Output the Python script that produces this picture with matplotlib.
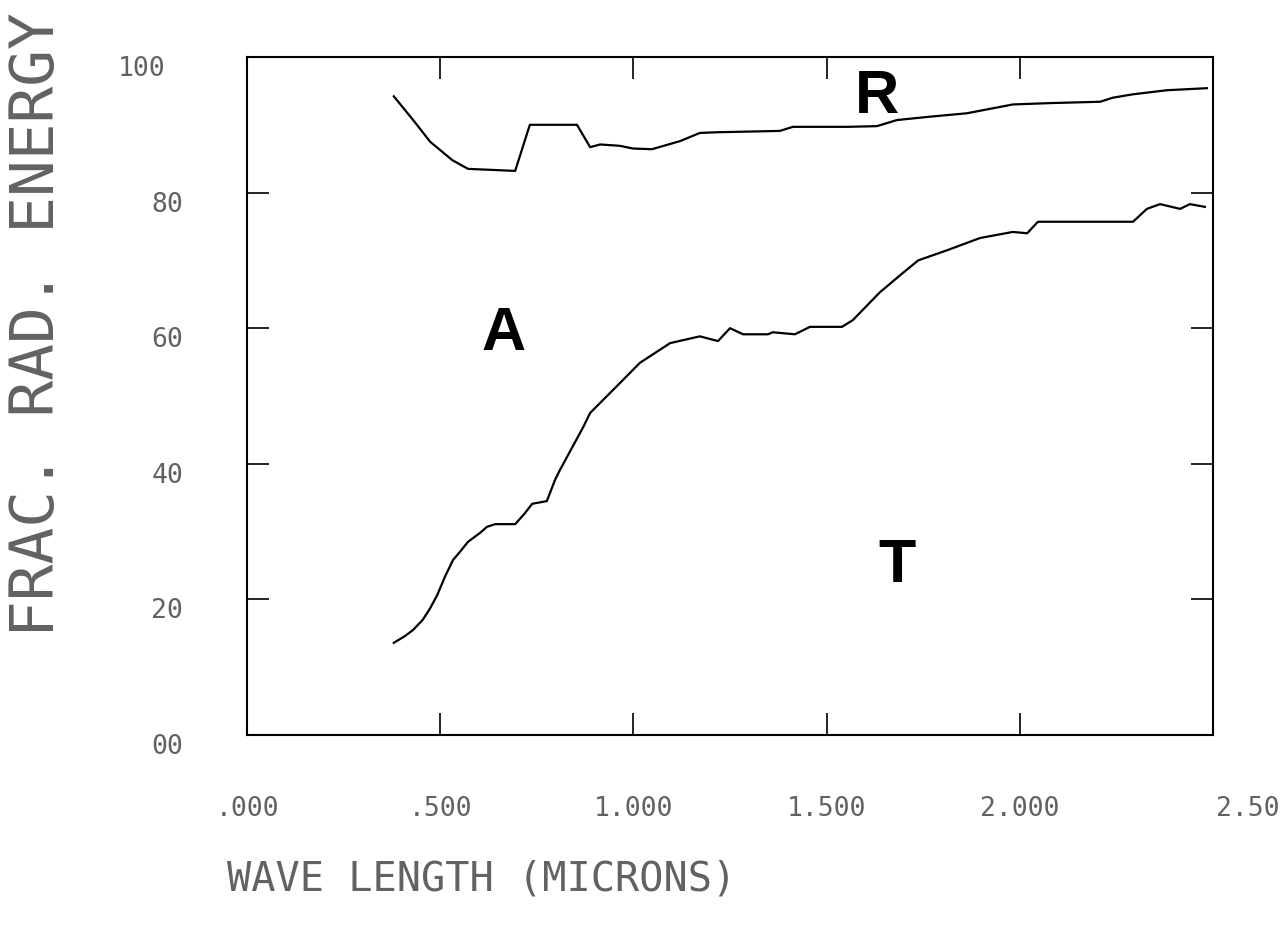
import matplotlib
matplotlib.use("Agg")
import matplotlib.pyplot as plt
from matplotlib.transforms import ScaledTranslation

# Upper boundary (reflected fraction lies above it)
wavelength_upper = [0.380, 0.430, 0.474, 0.531, 0.572, 0.694, 0.732, 0.854, 0.888, 0.914,
                    0.965, 0.999, 1.048, 1.121, 1.172, 1.216, 1.379, 1.413, 1.553, 1.630,
                    1.682, 1.768, 1.863, 1.982, 2.078, 2.208, 2.241, 2.293, 2.381, 2.484]
energy_upper = [94.2, 90.7, 87.5, 84.8, 83.5, 83.2, 90.0, 90.0, 86.7, 87.1,
                86.9, 86.5, 86.4, 87.6, 88.8, 88.9, 89.1, 89.7, 89.7, 89.8,
                90.7, 91.2, 91.7, 93.0, 93.2, 93.4, 94.0, 94.5, 95.1, 95.4]

# Lower boundary (transmitted fraction lies below it)
wavelength_lower = [0.380, 0.409, 0.430, 0.455, 0.474, 0.492, 0.512, 0.533, 0.551, 0.572,
                    0.603, 0.621, 0.642, 0.694, 0.719, 0.738, 0.776, 0.797, 0.810, 0.870,
                    0.888, 0.965, 1.017, 1.095, 1.172, 1.219, 1.250, 1.284, 1.348, 1.361,
                    1.418, 1.457, 1.540, 1.568, 1.638, 1.690, 1.737, 1.812, 1.897, 1.982,
                    2.019, 2.047, 2.293, 2.329, 2.363, 2.415, 2.440, 2.479]
energy_lower = [13.6, 14.6, 15.5, 17.0, 18.7, 20.6, 23.3, 25.8, 27.0, 28.5,
                29.8, 30.7, 31.1, 31.1, 32.7, 34.1, 34.5, 37.6, 39.1, 45.4,
                47.5, 51.9, 54.9, 57.8, 58.8, 58.1, 60.0, 59.1, 59.1, 59.4,
                59.1, 60.2, 60.2, 61.2, 65.3, 67.8, 70.0, 71.5, 73.3, 74.2,
                74.0, 75.7, 75.7, 77.6, 78.3, 77.6, 78.3, 77.9]

x_ticks = [0.0, 0.5, 1.0, 1.5, 2.0, 2.5]
x_tick_labels = [".000", ".500", "1.000", "1.500", "2.000", "2.50"]
y_ticks = [0, 20, 40, 60, 80, 100]
y_tick_labels = ["00", "20", "40", "60", "80", "100"]

region_labels = ["R", "A", "T"]
region_x = [1.630, 0.663, 1.682]
region_y = [94.1, 59.0, 24.8]

mono = ["DejaVu Sans Mono"]
text_color = "#626262"

fig = plt.figure(figsize=(12.82, 9.36), dpi=100)
fig.patch.set_facecolor("white")
ax = fig.add_axes([247 / 1282, 1 - 735 / 936, 966 / 1282, 678 / 936])

ax.plot(wavelength_upper, energy_upper, color="black", lw=1.6)
ax.plot(wavelength_lower, energy_lower, color="black", lw=1.6)

for lab, xx, yy in zip(region_labels, region_x, region_y):
    ax.text(xx, yy, lab, ha="center", va="center", fontsize=44,
            fontweight="bold", family=["Liberation Sans", "DejaVu Sans"], color="black")

ax.set_xlim(0, 2.5)
ax.set_ylim(0, 100)
for s in ax.spines.values():
    s.set_linewidth(1.5)
    s.set_color("black")

ax.set_xticks(x_ticks, x_tick_labels)
ax.set_yticks(y_ticks, y_tick_labels)
ax.tick_params(axis="both", direction="in", length=16, width=1.2, color="black",
               top=True, right=True, labelsize=19, labelcolor=text_color)
ax.tick_params(axis="x", pad=44)
ax.tick_params(axis="y", pad=46)
for lab in ax.get_xticklabels() + ax.get_yticklabels():
    lab.set_family(mono)

# nudge tick labels to sit like the plotter output
down = ScaledTranslation(0, -9 / 100, fig.dpi_scale_trans)
for lab in ax.get_yticklabels():
    lab.set_transform(lab.get_transform() + down)
ylabs = ax.get_yticklabels()
ylabs[-1].set_transform(ylabs[-1].get_transform() + ScaledTranslation(-18 / 100, 0, fig.dpi_scale_trans))
xlabs = ax.get_xticklabels()
xlabs[-1].set_horizontalalignment("right")
xlabs[-1].set_transform(xlabs[-1].get_transform() + ScaledTranslation(66 / 100, 0, fig.dpi_scale_trans))

fig.text(482 / 1282, 1 - 880 / 936, "WAVE LENGTH (MICRONS)", ha="center", va="center",
         fontsize=29, family=mono, color=text_color)
fig.text(38 / 1282, 1 - 325 / 936, "FRAC. RAD. ENERGY", ha="center", va="center",
         rotation=90, fontsize=44, family=mono, color=text_color)

fig.savefig("out.png", dpi=100, facecolor="white")
